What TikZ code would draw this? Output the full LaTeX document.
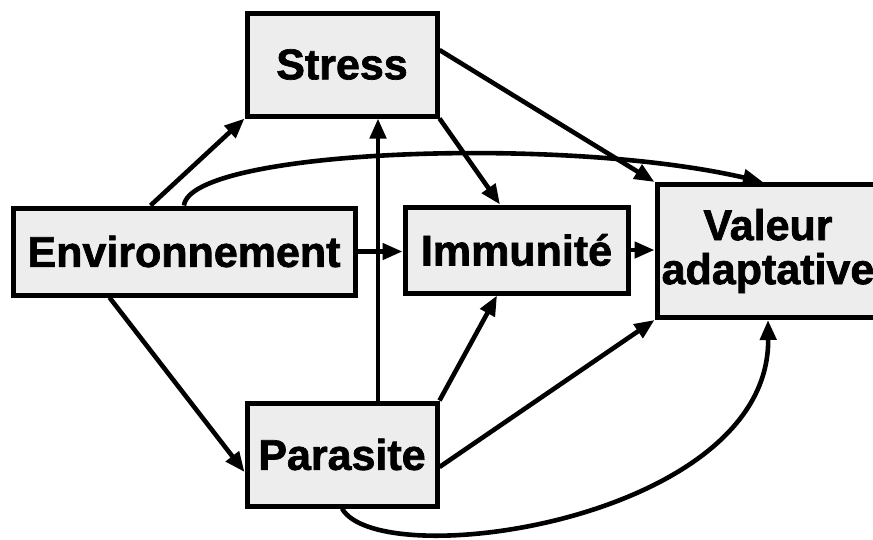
\documentclass[tikz,border=0pt]{standalone}
\usepackage{fontspec}
\setmainfont{Liberation Sans}[BoldFeatures={FakeBold=1.6}]
\usetikzlibrary{arrows.meta,calc}
\begin{document}
\begin{tikzpicture}[x=1pt,y=-1pt,
  box/.style={draw=black,line width=5pt,fill=gray!14,inner sep=0pt,
    font=\fontsize{43}{43}\selectfont\bfseries},
  conn/.style={line width=4.6pt,-{Triangle[length=20pt,width=16pt]}}]
\clip (0,0) rectangle (873,539);
\node[box,minimum width=190pt,minimum height=103pt] (stress) at (342,64.5) {Stress};
\node[box,minimum width=342pt,minimum height=87pt] (env) at (184,251.5) {Environnement};
\node[box,minimum width=223pt,minimum height=86pt] (imm) at (516.5,250) {Immunité};
\node[box,minimum width=222pt,minimum height=133pt,align=center,
  font=\fontsize{43}{44}\selectfont\bfseries] (val) at (768,251) {Valeur\\adaptative};
\node[box,minimum width=190pt,minimum height=103pt] (par) at (342,454.5) {Parasite};
% connectors
\draw[conn] ($(env.north west)+(140,0)$) -- (stress.south west);
\draw[conn] (env.north) .. controls (190,150) and (560,135) .. ($(val.north)+(-5,0)$);
\draw[conn] ($(stress.east)+(0,-14.5)$) -- (val.north west);
\draw[conn] (stress.south east) -- ($(imm.north)+(-16.5,0)$);
\draw[conn] (env.east) -- (env.east -| imm.west);
\draw[conn] (imm.east) -- (imm.east -| val.west);
\draw[conn] ($(env.south west)+(99,0)$) -- ($(par.west)+(0,17.5)$);
\draw[conn] ($(par.north)+(36,0)$) -- ($(stress.south)+(36,0)$);
\draw[conn] (par.north east) -- ($(imm.south)+(-19.5,0)$);
\draw[conn] ($(par.east)+(0,12.5)$) -- (val.south west);
\draw[conn] (par.south) .. controls (380,575) and (770,520) .. (val.south);
\end{tikzpicture}
\end{document}
